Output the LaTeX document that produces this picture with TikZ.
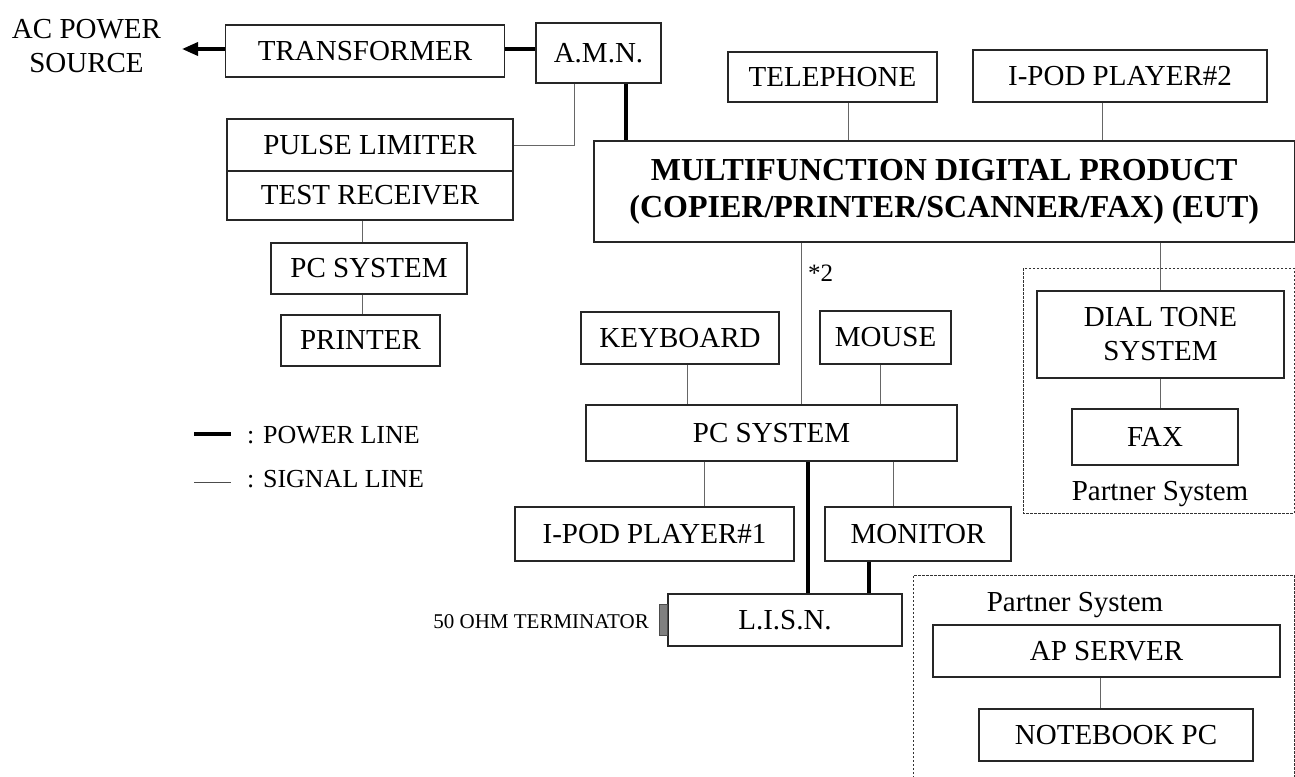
\documentclass[tikz,border=0pt]{standalone}
\usepackage{fontspec}
\setmainfont{Liberation Serif}
\usetikzlibrary{arrows.meta,calc}
\begin{document}
\begin{tikzpicture}[x=1pt,y=-1pt,
  box/.style={draw=black!85,line width=1.1pt,inner sep=0pt,align=center,font=\fontsize{29}{34}\selectfont},
  sig/.style={draw=black!60,line width=1pt},
  pow/.style={draw=black,line width=3.5pt},
  part/.style={draw=black!80,line width=0.9pt,dash pattern=on 2.5pt off 1.5pt},
  lbl/.style={inner sep=0pt,align=center,font=\fontsize{29}{34}\selectfont},
  small/.style={inner sep=0pt,font=\fontsize{26}{30}\selectfont}]
\useasboundingbox (0,0) rectangle (1295,776);
% partner system frames
\draw[part] (1023,268) rectangle (1294,513);
\draw[part] (913,778) -- (913,575) -- (1294,575) -- (1294,778);
% boxes
\node[box,minimum width=279pt,minimum height=52pt] (trans) at (365,51) {TRANSFORMER};
\node[box,minimum width=125pt,minimum height=60pt] (amn) at (598.5,53) {A.M.N.};
\node[box,minimum width=209pt,minimum height=50pt] (tel) at (832.5,77) {TELEPHONE};
\node[box,minimum width=294pt,minimum height=52pt] (ipodb) at (1120,76) {I-POD PLAYER\#2};
\node[box,minimum width=700.5pt,minimum height=101pt,font=\bfseries\fontsize{32}{37}\selectfont] (mfd) at (944.25,191.5) {MULTIFUNCTION DIGITAL PRODUCT\\(COPIER/PRINTER/SCANNER/FAX) (EUT)};
\node[box,minimum width=286pt,minimum height=52pt] (pulse) at (370,145) {PULSE LIMITER};
\node[box,minimum width=286pt,minimum height=49pt] (testrx) at (370,195.5) {TEST RECEIVER};
\node[box,minimum width=196pt,minimum height=51pt] (pcl) at (369,268.5) {PC SYSTEM};
\node[box,minimum width=159pt,minimum height=51pt] (printer) at (360.5,340.5) {PRINTER};
\node[box,minimum width=198pt,minimum height=52pt] (kbd) at (680,338) {KEYBOARD};
\node[box,minimum width=131pt,minimum height=53pt] (mouse) at (885.5,337.5) {MOUSE};
\node[box,minimum width=371pt,minimum height=56pt] (pc) at (771.5,433) {PC SYSTEM};
\node[box,minimum width=279pt,minimum height=54pt] (ipoda) at (654.5,534) {I-POD PLAYER\#1};
\node[box,minimum width=186pt,minimum height=54pt] (monitor) at (918,534) {MONITOR};
\node[box,minimum width=234pt,minimum height=52pt] (lisn) at (785,620) {L.I.S.N.};
\node[draw=black!70,fill=black!50,line width=0.8pt,inner sep=0pt,minimum width=8pt,minimum height=31pt,anchor=east] (term) at (lisn.west) {};
\node[box,minimum width=247pt,minimum height=87pt] (dial) at (1160.5,334.5) {DIAL TONE\\SYSTEM};
\node[box,minimum width=166pt,minimum height=56pt] (fax) at (1155,437) {FAX};
\node[box,minimum width=347pt,minimum height=52pt] (apsrv) at (1106.5,651) {AP SERVER};
\node[box,minimum width=274pt,minimum height=52pt] (nb) at (1116,735) {NOTEBOOK PC};
% labels
\node[lbl] (acsrc) at (86.5,46) {AC POWER\\SOURCE};
\node[inner sep=0pt,font=\fontsize{21}{24}\selectfont,anchor=east] (termlbl) at (649,622) {50 OHM TERMINATOR};
\node[inner sep=0pt,font=\fontsize{25}{28}\selectfont,anchor=west] (star) at (808,273) {*2};
\node[lbl] (ps1) at (1160,494) {Partner System};
\node[lbl] (ps2) at (1075,605) {Partner System};
% helper coordinates
\coordinate (xa) at (574,0);
\coordinate (xb) at (626,0);
\coordinate (xc) at (848,0);
\coordinate (xd) at (1102,0);
\coordinate (xe) at (801,0);
\coordinate (xf) at (1160,0);
\coordinate (xg) at (362,0);
\coordinate (xh) at (687,0);
\coordinate (xi) at (880,0);
\coordinate (xj) at (704,0);
\coordinate (xk) at (808,0);
\coordinate (xl) at (893,0);
\coordinate (xm) at (869,0);
\coordinate (xn) at (1100,0);
\coordinate (tip) at (182,49);
% power lines
\draw[pow,-{Triangle[length=16pt,width=13pt]}] (trans.west |- tip) -- (tip);
\draw[pow] (trans.east |- tip) -- (amn.west |- tip);
\draw[pow] (amn.south -| xb) -- (mfd.north -| xb);
\draw[pow] (pc.south -| xk) -- (lisn.north -| xk);
\draw[pow] (monitor.south -| xm) -- (lisn.north -| xm);
% signal lines
\draw[sig] (amn.south -| xa) |- (pulse.east);
\draw[sig] (tel.south -| xc) -- (mfd.north -| xc);
\draw[sig] (ipodb.south -| xd) -- (mfd.north -| xd);
\draw[sig] (mfd.south -| xe) -- (pc.north -| xe);
\draw[sig] (mfd.south -| xf) -- (dial.north -| xf);
\draw[sig] (dial.south -| xf) -- (fax.north -| xf);
\draw[sig] (testrx.south -| xg) -- (pcl.north -| xg);
\draw[sig] (pcl.south -| xg) -- (printer.north -| xg);
\draw[sig] (kbd.south -| xh) -- (pc.north -| xh);
\draw[sig] (mouse.south -| xi) -- (pc.north -| xi);
\draw[sig] (pc.south -| xj) -- (ipoda.north -| xj);
\draw[sig] (pc.south -| xl) -- (monitor.north -| xl);
\draw[sig] (apsrv.south -| xn) -- (nb.north -| xn);
% legend
\coordinate (lp1) at (194,434);
\coordinate (lp2) at (231,434);
\coordinate (ls1) at (194,482);
\coordinate (ls2) at (231,482);
\draw[draw=black,line width=3.5pt] (lp1) -- (lp2);
\draw[draw=black!70,line width=1pt] (ls1) -- (ls2);
\node[small,anchor=west] (lgp) at (247,435) {: POWER LINE};
\node[small,anchor=west] (lgs) at (247,479) {: SIGNAL LINE};
\end{tikzpicture}
\end{document}
